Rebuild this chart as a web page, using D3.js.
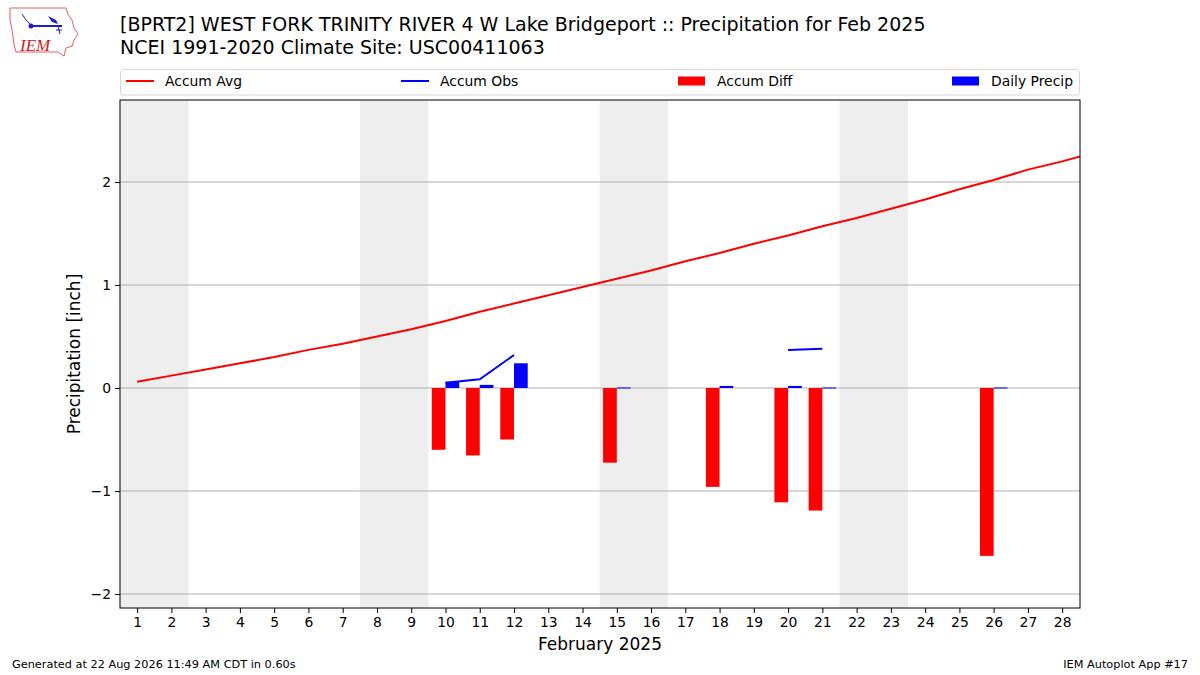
<!DOCTYPE html>
<html>
<head>
<meta charset="utf-8">
<script src="https://cdn.jsdelivr.net/npm/d3@7"></script>
<style>
  body { margin: 0; background: #fff; }
  svg { font-family: "DejaVu Sans", sans-serif; }
</style>
</head>
<body>
<script>
// Feb 2025 daily values
var days = d3.range(1, 29);
var accumAvg = [0.06, 0.12, 0.18, 0.24, 0.30, 0.37, 0.43, 0.50, 0.57, 0.65,
                0.74, 0.82, 0.90, 0.98, 1.06, 1.14, 1.23, 1.31, 1.40, 1.48,
                1.57, 1.65, 1.74, 1.83, 1.93, 2.02, 2.12, 2.20, 2.29];
// observed accumulation only reported on a few days
var obsDays  = [10, 11, 12, 15, 18, 20, 21, 26];
var accumObs = [0.05, 0.085, 0.32, 0.335, 0.35, 0.37, 0.38, 0.39];
var accumDiff = [-0.60, -0.655, -0.50, -0.725, -0.96, -1.11, -1.19, -1.63];
var dailyPrecip = [0.06, 0.03, 0.24, 0.005, 0.02, 0.02, 0.005, 0.005];
var weekends = [[0.5, 2.5], [7.5, 9.5], [14.5, 16.5], [21.5, 23.5]];
var yTicks = [-2, -1, 0, 1, 2];

var W = 1200, H = 675;
var margin = {left: 120, right: 120, top: 100, bottom: 67};

var svg = d3.select("body").append("svg")
  .attr("width", W)
  .attr("height", H);

var x = d3.scaleLinear().domain([0.5, 28.52]).range([margin.left, W - margin.right]);
var y = d3.scaleLinear().domain([-2.136, 2.796]).range([H - margin.bottom, margin.top]);

svg.append("clipPath").attr("id", "plotclip")
  .append("rect")
  .attr("x", x.range()[0]).attr("y", y.range()[1])
  .attr("width", x.range()[1] - x.range()[0])
  .attr("height", y.range()[0] - y.range()[1]);

var plot = svg.append("g").attr("clip-path", "url(#plotclip)");

// weekend shading
plot.selectAll(".wknd")
  .data(weekends)
  .enter().append("rect")
  .attr("class", "wknd")
  .attr("x", function(d) { return x(d[0]); })
  .attr("width", function(d) { return x(d[1]) - x(d[0]); })
  .attr("y", y.range()[1])
  .attr("height", y.range()[0] - y.range()[1])
  .attr("fill", "#eeeeee");

// horizontal grid
plot.selectAll(".grid")
  .data(yTicks)
  .enter().append("line")
  .attr("x1", x.range()[0]).attr("x2", x.range()[1])
  .attr("y1", function(d) { return y(d); })
  .attr("y2", function(d) { return y(d); })
  .attr("stroke", "#b0b0b0")
  .attr("stroke-width", 1);

// accum diff bars (left of the day) and daily precip (right of the day)
var barW = 0.4;
plot.selectAll(".diff")
  .data(obsDays)
  .enter().append("rect")
  .attr("x", function(d) { return x(d - barW); })
  .attr("width", function(d) { return x(d) - x(d - barW); })
  .attr("y", function(d, i) { return y(Math.max(0, accumDiff[i])); })
  .attr("height", function(d, i) { return Math.abs(y(accumDiff[i]) - y(0)); })
  .attr("fill", "#ff0000");

plot.selectAll(".daily")
  .data(obsDays)
  .enter().append("rect")
  .attr("x", function(d) { return x(d); })
  .attr("width", function(d) { return x(d + barW) - x(d); })
  .attr("y", function(d, i) { return y(dailyPrecip[i]); })
  .attr("height", function(d, i) { return Math.max(1, y(0) - y(dailyPrecip[i])); })
  .attr("fill", "#0000ff");

// accum avg line
var avgPts = accumAvg.map(function(v, i) { return [i + 1, v]; });
plot.append("path")
  .datum(avgPts)
  .attr("fill", "none")
  .attr("stroke", "#ff0000")
  .attr("stroke-width", 2)
  .attr("d", d3.line().x(function(d) { return x(d[0]); }).y(function(d) { return y(d[1]); }));

// accum obs line, broken where days are missing
var obsPts = days.map(function(d) {
  var i = obsDays.indexOf(d);
  return [d, i < 0 ? null : accumObs[i]];
});
plot.append("path")
  .datum(obsPts)
  .attr("fill", "none")
  .attr("stroke", "#0000ff")
  .attr("stroke-width", 2)
  .attr("d", d3.line()
    .defined(function(d) { return d[1] != null; })
    .x(function(d) { return x(d[0]); })
    .y(function(d) { return y(d[1]); }));

// axes
var xAxis = svg.append("g")
  .attr("transform", "translate(0," + y.range()[0] + ")")
  .call(d3.axisBottom(x).tickValues(days).tickFormat(d3.format("d")).tickSize(5).tickPadding(4));
var yAxis = svg.append("g")
  .attr("transform", "translate(" + x.range()[0] + ",0)")
  .call(d3.axisLeft(y).tickValues(yTicks).tickFormat(function(d) { return d < 0 ? "\u2212" + Math.abs(d) : d; }).tickSize(5).tickPadding(4));
[xAxis, yAxis].forEach(function(a) {
  a.selectAll("text").attr("font-size", 13.9).attr("fill", "#000").attr("font-family", "DejaVu Sans");
  a.select(".domain").remove();
  a.selectAll("line").attr("stroke", "#000");
});

svg.append("rect")
  .attr("x", x.range()[0]).attr("y", y.range()[1])
  .attr("width", x.range()[1] - x.range()[0])
  .attr("height", y.range()[0] - y.range()[1])
  .attr("fill", "none").attr("stroke", "#000").attr("stroke-width", 1);

svg.append("text")
  .attr("x", (x.range()[0] + x.range()[1]) / 2).attr("y", 650)
  .attr("text-anchor", "middle").attr("font-size", 17)
  .text("February 2025");

svg.append("text")
  .attr("transform", "translate(80," + ((y.range()[0] + y.range()[1]) / 2) + ") rotate(-90)")
  .attr("text-anchor", "middle").attr("font-size", 17)
  .text("Precipitation [inch]");

// titles
svg.append("text").attr("x", 120).attr("y", 31).attr("font-size", 19)
  .text("[BPRT2] WEST FORK TRINITY RIVER 4 W Lake Bridgeport :: Precipitation for Feb 2025");
svg.append("text").attr("x", 120).attr("y", 54).attr("font-size", 19)
  .text("NCEI 1991-2020 Climate Site: USC00411063");

// legend
var legend = svg.append("g");
legend.append("rect")
  .attr("x", 120.5).attr("y", 69.5).attr("width", 959).attr("height", 25.5)
  .attr("rx", 3).attr("fill", "#fff").attr("stroke", "#d6d6d6");
var legendItems = [
  {label: "Accum Avg", color: "#ff0000", kind: "line", x: 126},
  {label: "Accum Obs", color: "#0000ff", kind: "line", x: 401},
  {label: "Accum Diff", color: "#ff0000", kind: "patch", x: 678},
  {label: "Daily Precip", color: "#0000ff", kind: "patch", x: 952}
];
legendItems.forEach(function(it) {
  if(it.kind == "line") {
    legend.append("line")
      .attr("x1", it.x).attr("x2", it.x + 28).attr("y1", 81).attr("y2", 81)
      .attr("stroke", it.color).attr("stroke-width", 2);
  } else {
    legend.append("rect")
      .attr("x", it.x).attr("y", 76.5).attr("width", 27).attr("height", 9)
      .attr("fill", it.color);
  }
  legend.append("text")
    .attr("x", it.x + 39).attr("y", 86).attr("font-size", 13.9)
    .text(it.label);
});

// footer
svg.append("text").attr("x", 12).attr("y", 668).attr("font-size", 11.3)
  .text("Generated at 22 Aug 2026 11:49 AM CDT in 0.60s");
svg.append("text").attr("x", 1188).attr("y", 668).attr("font-size", 11.3)
  .attr("text-anchor", "end")
  .text("IEM Autoplot App #17");

// IEM logo (rough sketch)
var logo = svg.append("g");
logo.append("path")
  .attr("d", "M10,8 L66,8 L68,14 L72,20 L74,28 L78,34 L74,40 L72,46 L66,48 L64,56 L58,52 L16,52 L14,44 L12,30 L10,20 Z")
  .attr("fill", "none").attr("stroke", "#e06060").attr("stroke-width", 1);
logo.append("line").attr("x1", 30).attr("y1", 26).attr("x2", 62).attr("y2", 26)
  .attr("stroke", "#2020c0").attr("stroke-width", 2);
logo.append("circle").attr("cx", 31).attr("cy", 26).attr("r", 2.5).attr("fill", "#2020c0");
logo.append("path").attr("d", "M48,16 L56,20 L58,24 L52,22 Z").attr("fill", "#2020c0");
logo.append("path").attr("d", "M22,14 L26,20 L30,24").attr("fill", "none")
  .attr("stroke", "#2020c0").attr("stroke-width", 1);
logo.append("path").attr("d", "M58,26 L60,34 M56,30 L62,30").attr("fill", "none")
  .attr("stroke", "#2020c0").attr("stroke-width", 1);
logo.append("text").attr("x", 20).attr("y", 51)
  .attr("font-family", "Liberation Serif, serif").attr("font-style", "italic")
  .attr("font-size", 17).attr("fill", "#d02020")
  .text("IEM");
</script>
</body>
</html>
